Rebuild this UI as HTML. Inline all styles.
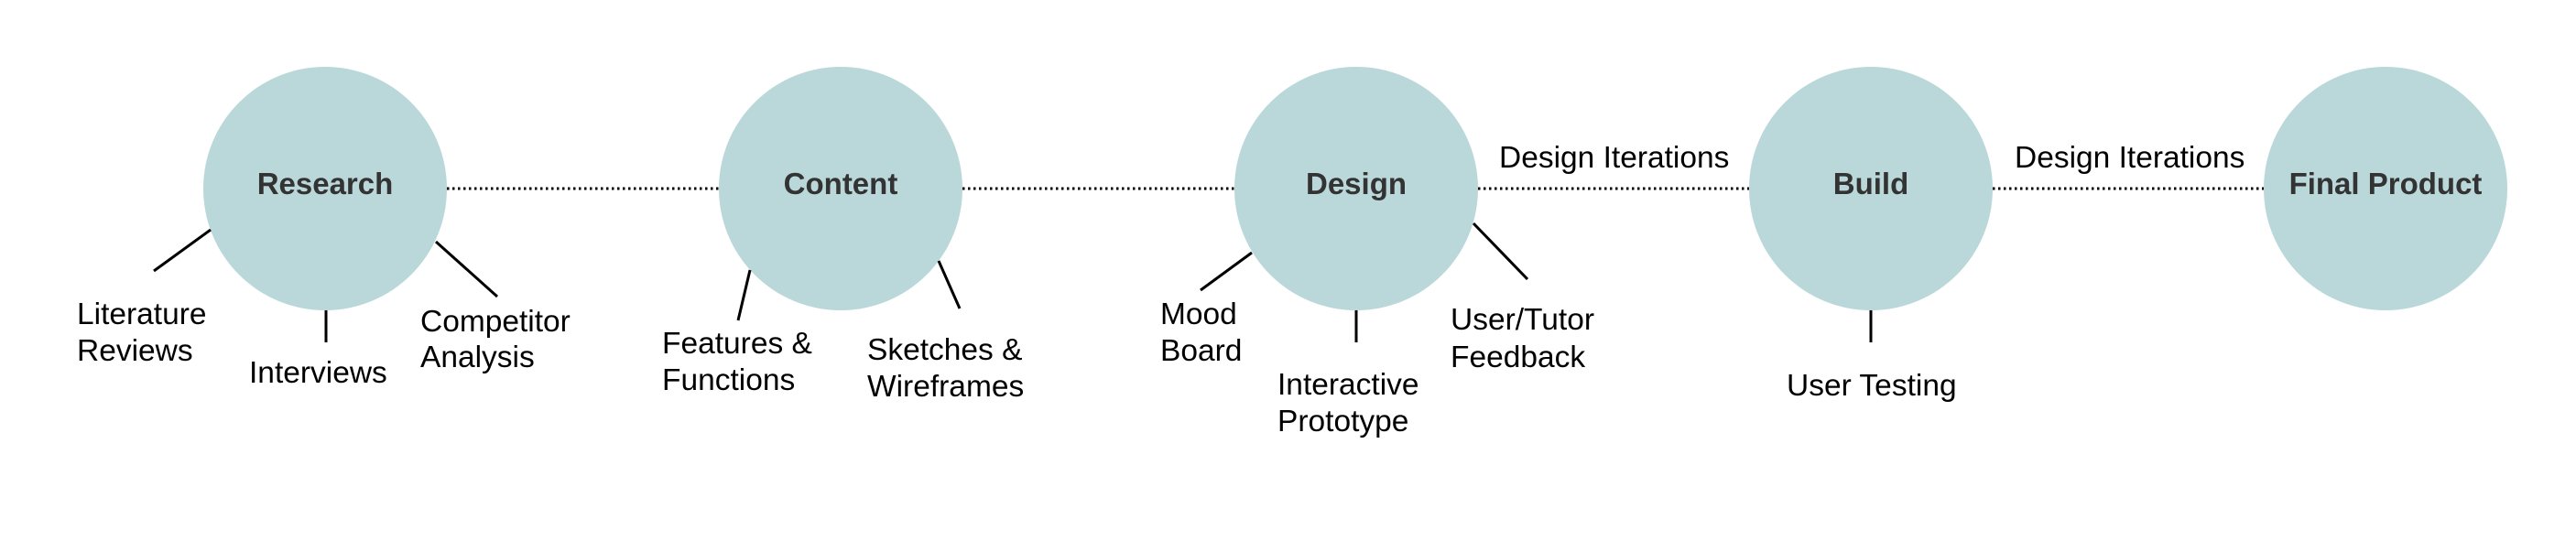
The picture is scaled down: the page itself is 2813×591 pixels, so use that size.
<!DOCTYPE html>
<html><head><meta charset="utf-8"><style>
html,body{margin:0;padding:0;background:#fff;}
svg{display:block;}
.b{font-family:"Liberation Sans",sans-serif;font-weight:bold;font-size:33px;fill:#333;}
.t{font-family:"Liberation Sans",sans-serif;font-size:33.5px;fill:#000;}
</style></head><body>
<svg width="2813" height="591" viewBox="0 0 2813 591" xmlns="http://www.w3.org/2000/svg">
<g stroke="#000" stroke-width="3" stroke-dasharray="2.5 3.5">
<line x1="488" y1="206" x2="785" y2="206"/>
<line x1="1051" y1="206" x2="1348" y2="206"/>
<line x1="1614" y1="206" x2="1910" y2="206"/>
<line x1="2176" y1="206" x2="2472" y2="206"/>
</g>
<g fill="#bad8da">
<circle cx="355" cy="206" r="133"/>
<circle cx="918" cy="206" r="133"/>
<circle cx="1481" cy="206" r="133"/>
<circle cx="2043" cy="206" r="133"/>
<circle cx="2605" cy="206" r="133"/>
</g>
<g stroke="#000" stroke-width="3">
<line x1="230" y1="251" x2="168" y2="296"/>
<line x1="356" y1="339" x2="356" y2="374"/>
<line x1="476" y1="264" x2="543" y2="324"/>
<line x1="819" y1="295" x2="806" y2="350"/>
<line x1="1025" y1="285" x2="1048" y2="337"/>
<line x1="1367" y1="276" x2="1311" y2="317"/>
<line x1="1481" y1="339" x2="1481" y2="374"/>
<line x1="1609" y1="244" x2="1668" y2="305"/>
<line x1="2043" y1="339" x2="2043" y2="374"/>
</g>
<g class="b" text-anchor="middle">
<text x="355" y="212">Research</text>
<text x="918" y="212">Content</text>
<text x="1481" y="212">Design</text>
<text x="2043" y="212">Build</text>
<text x="2605" y="212">Final Product</text>
</g>
<g class="t">
<text x="84" y="354">Literature</text><text x="84" y="394">Reviews</text>
<text x="272" y="418">Interviews</text>
<text x="459" y="362">Competitor</text><text x="459" y="401">Analysis</text>
<text x="723" y="386">Features &amp;</text><text x="723" y="426">Functions</text>
<text x="947" y="393">Sketches &amp;</text><text x="947" y="433">Wireframes</text>
<text x="1267" y="354">Mood</text><text x="1267" y="394">Board</text>
<text x="1395" y="431">Interactive</text><text x="1395" y="471">Prototype</text>
<text x="1584" y="360">User/Tutor</text><text x="1584" y="401">Feedback</text>
<text x="1951" y="432">User Testing</text>
<text x="1637" y="183">Design Iterations</text>
<text x="2200" y="183">Design Iterations</text>
</g>
</svg>
</body></html>
